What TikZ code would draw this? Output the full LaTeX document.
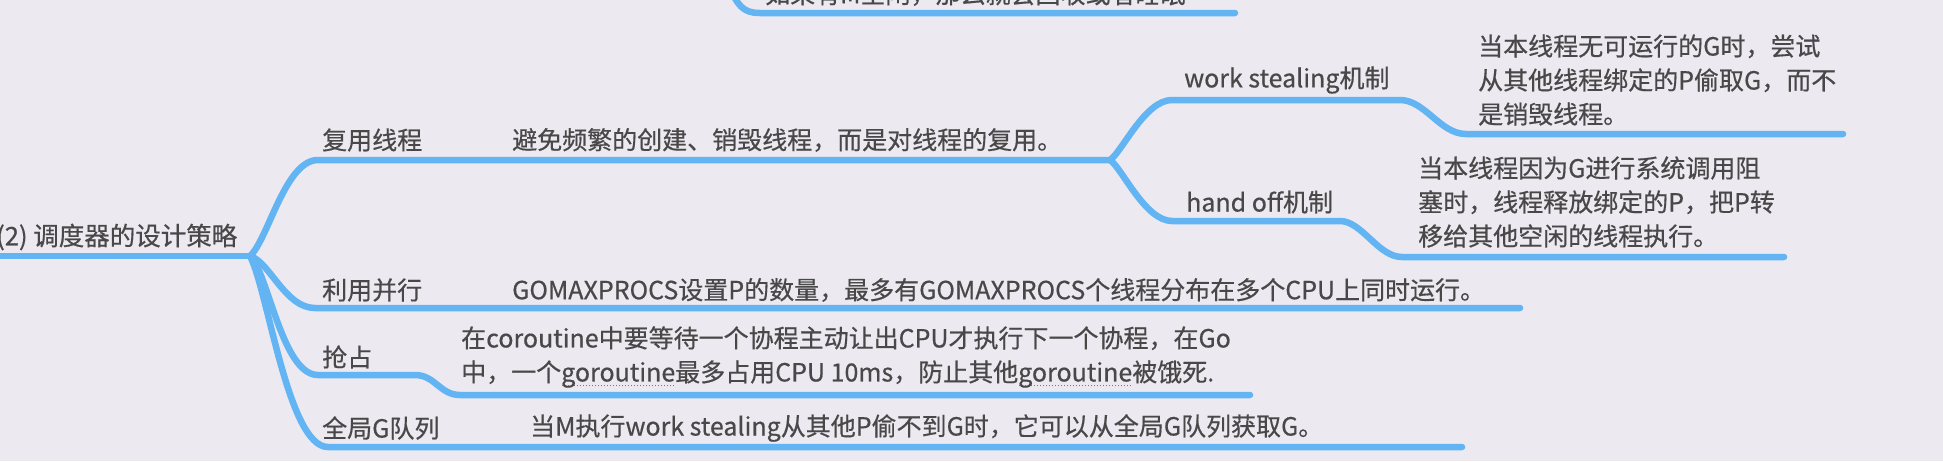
\documentclass[tikz,border=0pt]{standalone}
\usepackage{fontspec}
\setmainfont{Noto Sans CJK SC}[FakeBold=0.5]
\definecolor{bgc}{HTML}{ECE9F0}
\definecolor{linec}{HTML}{62B4F2}
\definecolor{textc}{HTML}{484848}
\newcommand\spellerr[1]{\setbox0\hbox{#1}\rlap{\raisebox{-5pt}{\color{red!75}\hbox to\wd0{\xleaders\hbox to 3pt{\hss\rule{1.4pt}{1.4pt}\hss}\hfill}}}\box0}
\tikzset{
  branch/.style={draw=linec, line width=6.5pt, line cap=round, line join=round},
  txt/.style={text=textc, inner sep=0pt, anchor=west, font=\fontsize{25}{34}\selectfont},
  desc/.style={txt, align=left},
  roottxt/.style={txt, font=\fontsize{25.5}{34}\selectfont}
}
\begin{document}
\begin{tikzpicture}[x=1pt,y=-1pt]
\fill[bgc] (0,0) rectangle (1943,461);
\useasboundingbox (0,0) rectangle (1943,461);
\clip (0,0) rectangle (1943,461);

% coordinates
\coordinate (root) at (250,256);
\coordinate (fork1) at (1110,160);
\coordinate (rootL) at (-10,256);
\coordinate (topS) at (728,-15);
\coordinate (topE) at (1235,13);
\coordinate (wsE) at (1843,134);
\coordinate (hoE) at (1784,257);
\coordinate (parE) at (1520,308);
\coordinate (preE) at (1250,395);
\coordinate (globE) at (1462,447);

% top (partly hidden) branch
\draw[branch] (topS) .. controls (738,5) and (742,13) .. (760,13) -- (topE);
\node[txt] (topT) at (765,-6) {如果有M空闲，那么就会回收或者睡眠};

% root
\draw[branch] (rootL) -- (root);
\node[roottxt] (rootT) at (-4,237) {(2) 调度器的设计策略};

% 复用线程
\draw[branch] (root) .. controls (268,240) and (285,160) .. (318,160) -- (fork1);
\node[txt] (reuse) at (322,140) {复用线程};
\node[txt] (reuseD) at (512,140) {避免频繁的创建、销毁线程，而是对线程的复用。};

% work stealing
\draw[branch] (fork1) .. controls (1122,152) and (1145,100) .. (1172,100) -- (1400,100)
  .. controls (1425,100) and (1440,134) .. (1466,134) -- (wsE);
\node[txt] (ws) at (1184,80) {work stealing机制};
\node[desc] (wsD) at (1478,80) {当本线程无可运行的G时，尝试\\从其他线程绑定的P偷取G，而不\\是销毁线程。};

% hand off
\draw[branch] (fork1) .. controls (1122,168) and (1145,221) .. (1172,221) -- (1340,221)
  .. controls (1362,221) and (1378,257) .. (1402,257) -- (hoE);
\node[txt] (ho) at (1186,202) {hand off机制};
\node[desc] (hoD) at (1418,202) {当本线程因为G进行系统调用阻\\塞时，线程释放绑定的P，把P转\\移给其他空闲的线程执行。};

% 利用并行
\draw[branch] (root) .. controls (270,262) and (285,308) .. (315,308) -- (parE);
\node[txt] (par) at (322,290) {利用并行};
\node[txt] (parD) at (512,290) {GOMAXPROCS设置P的数量，最多有GOMAXPROCS个线程分布在多个CPU上同时运行。};

% 抢占
\draw[branch] (root) .. controls (268,272) and (282,375) .. (318,375) -- (415,375)
  .. controls (435,375) and (440,395) .. (460,395) -- (preE);
\node[txt] (pre) at (322,357) {抢占};
\node[desc] (preD) at (461,357) {在coroutine中要等待一个协程主动让出CPU才执行下一个协程，在Go\\中，一个\spellerr{goroutine}最多占用CPU 10ms，防止其他\spellerr{goroutine}被饿死.};

% 全局G队列
\draw[branch] (root) .. controls (268,290) and (288,447) .. (328,447) -- (globE);
\node[txt] (glob) at (322,428) {全局G队列};
\node[txt] (globD) at (530,428) {当M执行work stealing从其他P偷不到G时，它可以从全局G队列获取G。};
\end{tikzpicture}
\end{document}
